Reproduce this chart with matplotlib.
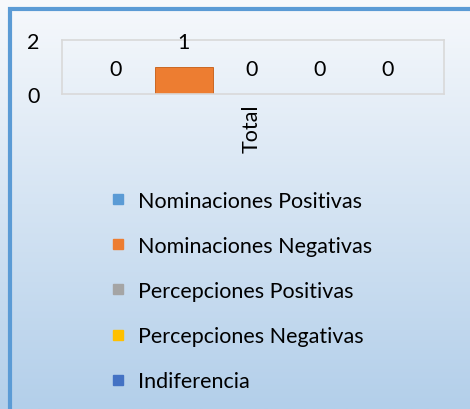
import matplotlib
matplotlib.use("Agg")
import matplotlib.pyplot as plt
import numpy as np
from matplotlib.lines import Line2D
from matplotlib.patches import Rectangle

plt.rcParams['font.family'] = ['Lato', 'DejaVu Sans']

series = ["Nominaciones Positivas", "Nominaciones Negativas", "Percepciones Positivas",
          "Percepciones Negativas", "Indiferencia"]
values = [0, 1, 0, 0, 0]
colors = ["#5B9BD5", "#ED7D31", "#A5A5A5", "#FFC000", "#4472C4"]
category = ["Total"]
yticks = [0, 2]

W, H = 470, 410
FS = 15.5
fig = plt.figure(figsize=(W / 100, H / 100), dpi=100)

# background gradient
bg = fig.add_axes([0, 0, 1, 1], zorder=-10)
grad = np.linspace(0, 1, 256).reshape(-1, 1)
top = np.array([0xF7, 0xF9, 0xFC]) / 255
bot = np.array([0xB3, 0xCF, 0xEA]) / 255
img = top + (bot - top) * grad[:, :, None]
bg.imshow(img, aspect='auto', extent=[0, 1, 0, 1], origin='upper')
bg.set_axis_off()

# outer border (left and top visible)
fig.patches.append(Rectangle((10 / W, -0.1), 1.2, (H - 10) / H + 0.1,
                             transform=fig.transFigure, fill=False,
                             edgecolor="#5B9BD5", linewidth=3.0, zorder=5))

ax = fig.add_axes([62 / W, 1 - 95 / H, (444 - 62) / W, (95 - 41) / H])
ax.patch.set_alpha(0)
x = np.arange(len(series))
bars = ax.bar(x, values, width=0.84, color=colors, edgecolor="#C55A11", linewidth=0.6)
for xi, v in zip(x, values):
    ax.annotate(str(v), (xi, v), xytext=(0, 18), textcoords='offset points',
                ha='center', va='center', fontsize=FS, color='black')
ax.set_xlim(-0.794, 4.824)
ax.set_ylim(0, 2)
ax.set_yticks(yticks)
ax.set_yticklabels([str(t) for t in yticks], fontsize=FS)
ax.set_xticks([2])
ax.set_xticklabels(category, rotation=90, fontsize=FS)
ax.tick_params(axis='y', length=0, pad=16)
ax.tick_params(axis='x', length=0, pad=7)
for s in ax.spines.values():
    s.set_color("#D9D9D9")
    s.set_linewidth(1.2)

handles = [Line2D([], [], marker='s', linestyle='none', markersize=7.5,
                  markerfacecolor=c, markeredgecolor=c) for c in colors]
fig.legend(handles, series, loc='upper left', bbox_to_anchor=(100 / W, 1 - 183 / H),
           frameon=False, fontsize=FS, labelspacing=1.17, handletextpad=0.45,
           handlelength=0.9, borderaxespad=0)

fig.savefig("out.png", dpi=100)
